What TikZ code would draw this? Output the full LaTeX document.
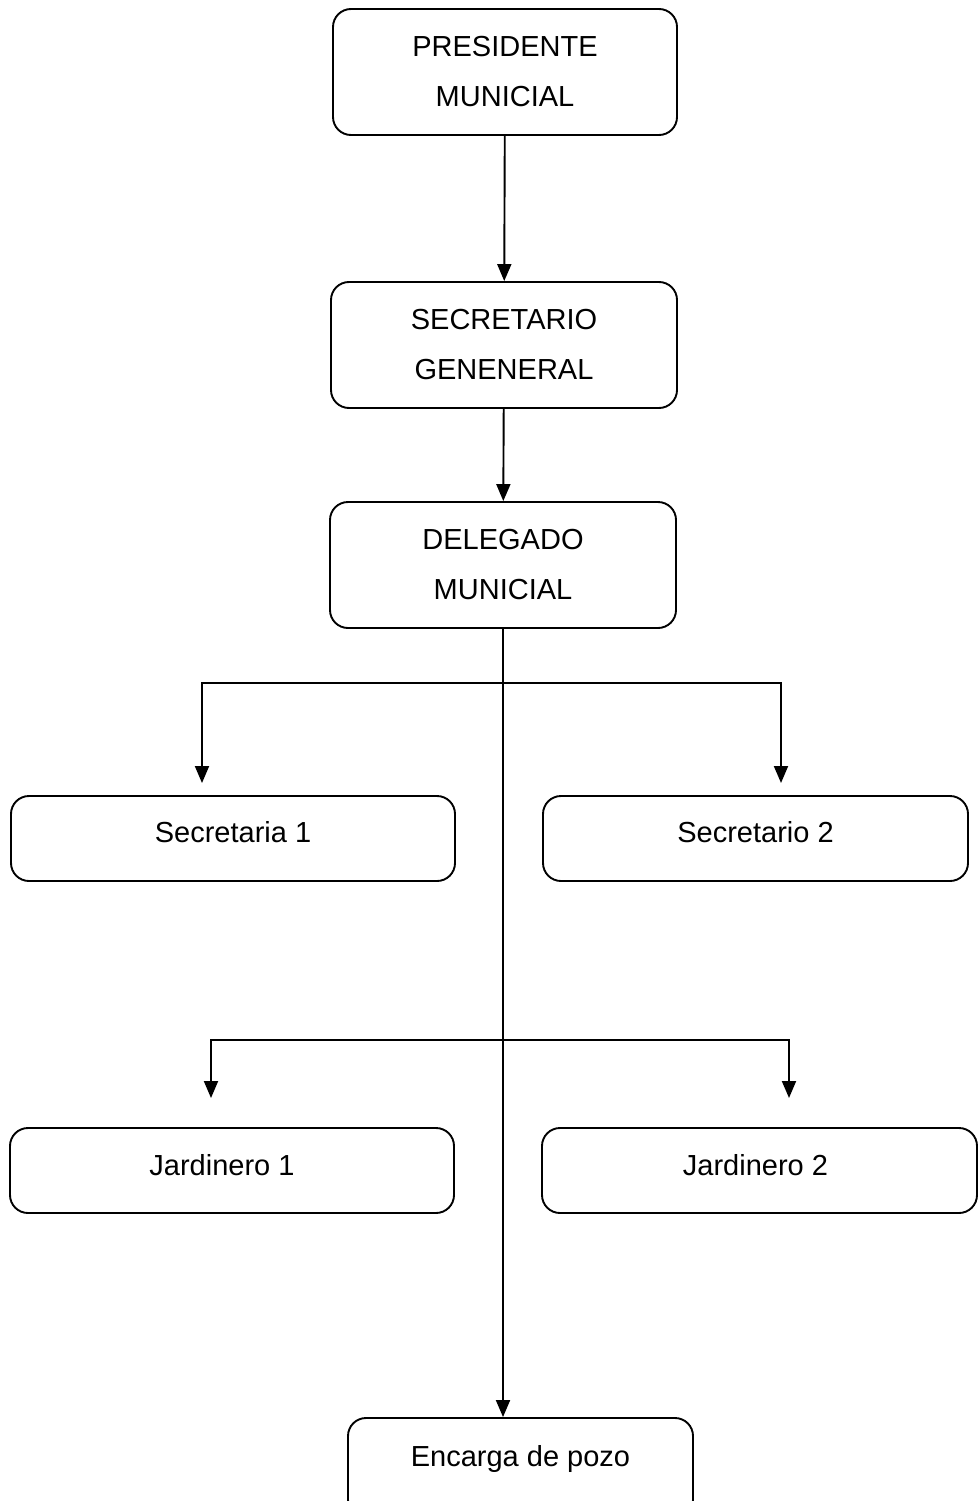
\documentclass[tikz,border=0pt]{standalone}
\usepackage{fontspec}
\setmainfont{Liberation Sans}
\usetikzlibrary{arrows.meta}
\begin{document}
\begin{tikzpicture}[x=1pt,y=-1pt,
  box/.style={draw, line width=1.9pt, rounded corners=18pt, inner sep=0pt, align=center,
    font=\fontsize{29}{50}\selectfont},
  conn/.style={line width=1.9pt, -{Triangle[length=17pt,width=14pt]}}]
\clip (0,0) rectangle (979,1501);
\fill[white] (0,0) rectangle (979,1501);
% boxes
\node[box, minimum width=344pt, minimum height=126pt] (pres) at (505,72) {PRESIDENTE\\MUNICIAL};
\node[box, minimum width=346pt, minimum height=126pt] (secg) at (504,345) {SECRETARIO\\GENENERAL};
\node[box, minimum width=346pt, minimum height=126pt] (del) at (503,565) {DELEGADO\\MUNICIAL};
\node[box, minimum width=444pt, minimum height=85pt] (s1) at (233,838.5) {\raisebox{13pt}{Secretaria 1}};
\node[box, minimum width=425pt, minimum height=85pt] (s2) at (755.5,838.5) {\raisebox{13pt}{Secretario 2}};
\node[box, minimum width=444pt, minimum height=85pt] (j1) at (232,1170.5) {\hspace*{-20pt}\raisebox{12pt}{Jardinero 1}};
\node[box, minimum width=435pt, minimum height=85pt] (j2) at (759.5,1170.5) {\hspace*{-8pt}\raisebox{12pt}{Jardinero 2}};
\node[box, minimum width=345pt, minimum height=100pt] (pozo) at (520.5,1468) {\raisebox{24pt}{Encarga de pozo}};
% branch points
\coordinate (b1) at (503,683);
\coordinate (b2) at (503,1040);
\coordinate (s1in) at (202,783);
\coordinate (s2in) at (781,783);
\coordinate (j1in) at (211,1098);
\coordinate (j2in) at (789,1098);
% connectors
\draw[conn] (pres) -- (secg);
\draw[conn] (secg) -- (del);
\draw[conn] (del.south) -- (del.south |- pozo.north);
\draw[conn] (b1) -| (s1in);
\draw[conn] (b1) -| (s2in);
\draw[conn] (b2) -| (j1in);
\draw[conn] (b2) -| (j2in);
\end{tikzpicture}
\end{document}
